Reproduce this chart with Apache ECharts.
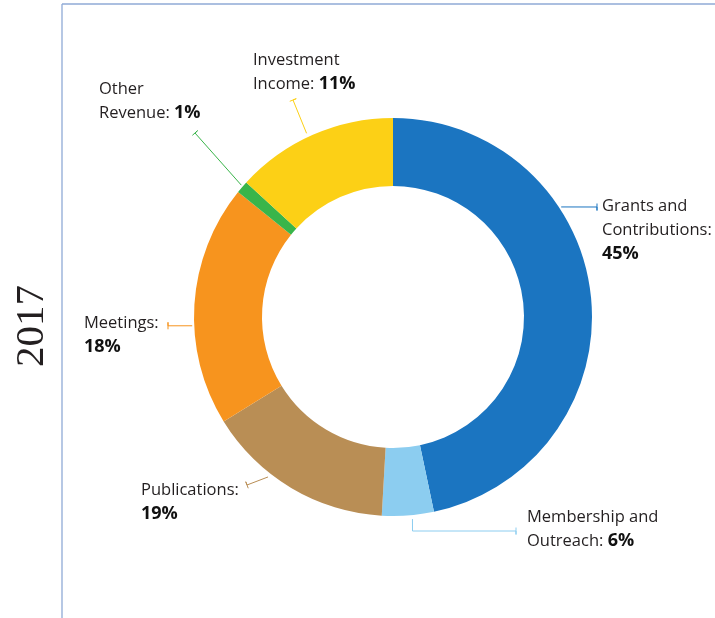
<!DOCTYPE html>
<html>
<head>
<meta charset="utf-8">
<script src="https://cdn.jsdelivr.net/npm/echarts@6/dist/echarts.min.js"></script>
<style>
html,body{margin:0;padding:0;background:#fff;}
#chart{width:715px;height:618px;}
</style>
</head>
<body>
<div id="chart"></div>
<script>
// ---- data (clockwise from 12 o'clock) ----
const categories = ['Grants and Contributions', 'Membership and Outreach', 'Publications', 'Meetings', 'Other Revenue', 'Investment Income'];
// slice shares
const sliceShares = [46.7, 4.2, 15.3, 19.6, 1.0, 13.2];
// percentages as printed in the labels
const printedPercent = ['45%', '6%', '19%', '18%', '1%', '11%'];
const labelText = ['Grants and\nContributions:\n', 'Membership and\nOutreach: ', 'Publications:\n', 'Meetings:\n', 'Other\nRevenue: ', 'Investment\nIncome: '];
const yearTitle = '2017';

// ---- styling / layout ----
const colors = ['#1b75c1', '#8ccdf0', '#b98e55', '#f7941e', '#39b54a', '#fcd016'];
const CX = 393, CY = 317, R_IN = 131, R_OUT = 199;
const labelPos = [[602, 194], [527, 505], [141, 478], [84, 311], [99, 77], [253, 48]];
const leaderAngle = [56.8, 174.5, 218, 267.5, 311, 334.8];
const leaderRadius = [201, 203, 203, 201, 201, 203];
const leaderRest = [
  [[597, 207]],
  [[412.5, 531], [516, 531]],
  [[247, 485]],
  [[168, 325.8]],
  [[195, 133]],
  [[293, 100]]
];

function onRing(deg, r) {
  const a = deg * Math.PI / 180;
  return [CX + r * Math.sin(a), CY - r * Math.cos(a)];
}
function leaderPoints(i) {
  const pts = [onRing(leaderAngle[i], leaderRadius[i])].concat(leaderRest[i]);
  const e = pts[pts.length - 1], p = pts[pts.length - 2];
  const dx = e[0] - p[0], dy = e[1] - p[1];
  const len = Math.sqrt(dx * dx + dy * dy) || 1;
  const nx = -dy / len * 3.5, ny = dx / len * 3.5;
  pts.push([e[0] + nx, e[1] + ny]);
  pts.push([e[0] - nx, e[1] - ny]);
  return pts;
}

const chart = echarts.init(document.getElementById('chart'), null, {renderer: 'canvas'});
chart.setOption({
  animation: false,
  backgroundColor: '#ffffff',
  graphic: [
    {type: 'line', shape: {x1: 62, y1: 4, x2: 62, y2: 618}, style: {stroke: '#8faad6', lineWidth: 1.3}, silent: true},
    {type: 'line', shape: {x1: 62, y1: 4, x2: 715, y2: 4}, style: {stroke: '#8faad6', lineWidth: 1.3}, silent: true},
    {type: 'text', x: 32, y: 326, rotation: Math.PI / 2,
     style: {text: yearTitle, font: '41px "Liberation Serif", "Times New Roman", serif', fill: '#231f20', align: 'center', verticalAlign: 'middle'}}
  ],
  series: [{
    type: 'pie',
    center: [CX, CY],
    radius: [R_IN, R_OUT],
    startAngle: 90,
    clockwise: true,
    avoidLabelOverlap: false,
    silent: true,
    data: categories.map((c, i) => ({name: c, value: sliceShares[i], itemStyle: {color: colors[i]}})),
    label: {
      show: true,
      position: 'outside',
      formatter: p => labelText[p.dataIndex] + '{b|' + printedPercent[p.dataIndex] + '}',
      fontFamily: '"Open Sans", sans-serif',
      fontSize: 16.5,
      color: '#231f20',
      lineHeight: 24,
      rich: {
        b: {fontFamily: '"Open Sans", sans-serif', fontWeight: 'bold', fontSize: 18, color: '#111', lineHeight: 24}
      }
    },
    labelLine: {show: true, length: 10, length2: 10, smooth: false, minTurnAngle: 0, maxSurfaceAngle: 180, lineStyle: {width: 1}},
    labelLayout: p => ({
      x: labelPos[p.dataIndex][0],
      y: labelPos[p.dataIndex][1],
      align: 'left',
      verticalAlign: 'top',
      labelLinePoints: leaderPoints(p.dataIndex)
    })
  }]
});
</script>
</body>
</html>
